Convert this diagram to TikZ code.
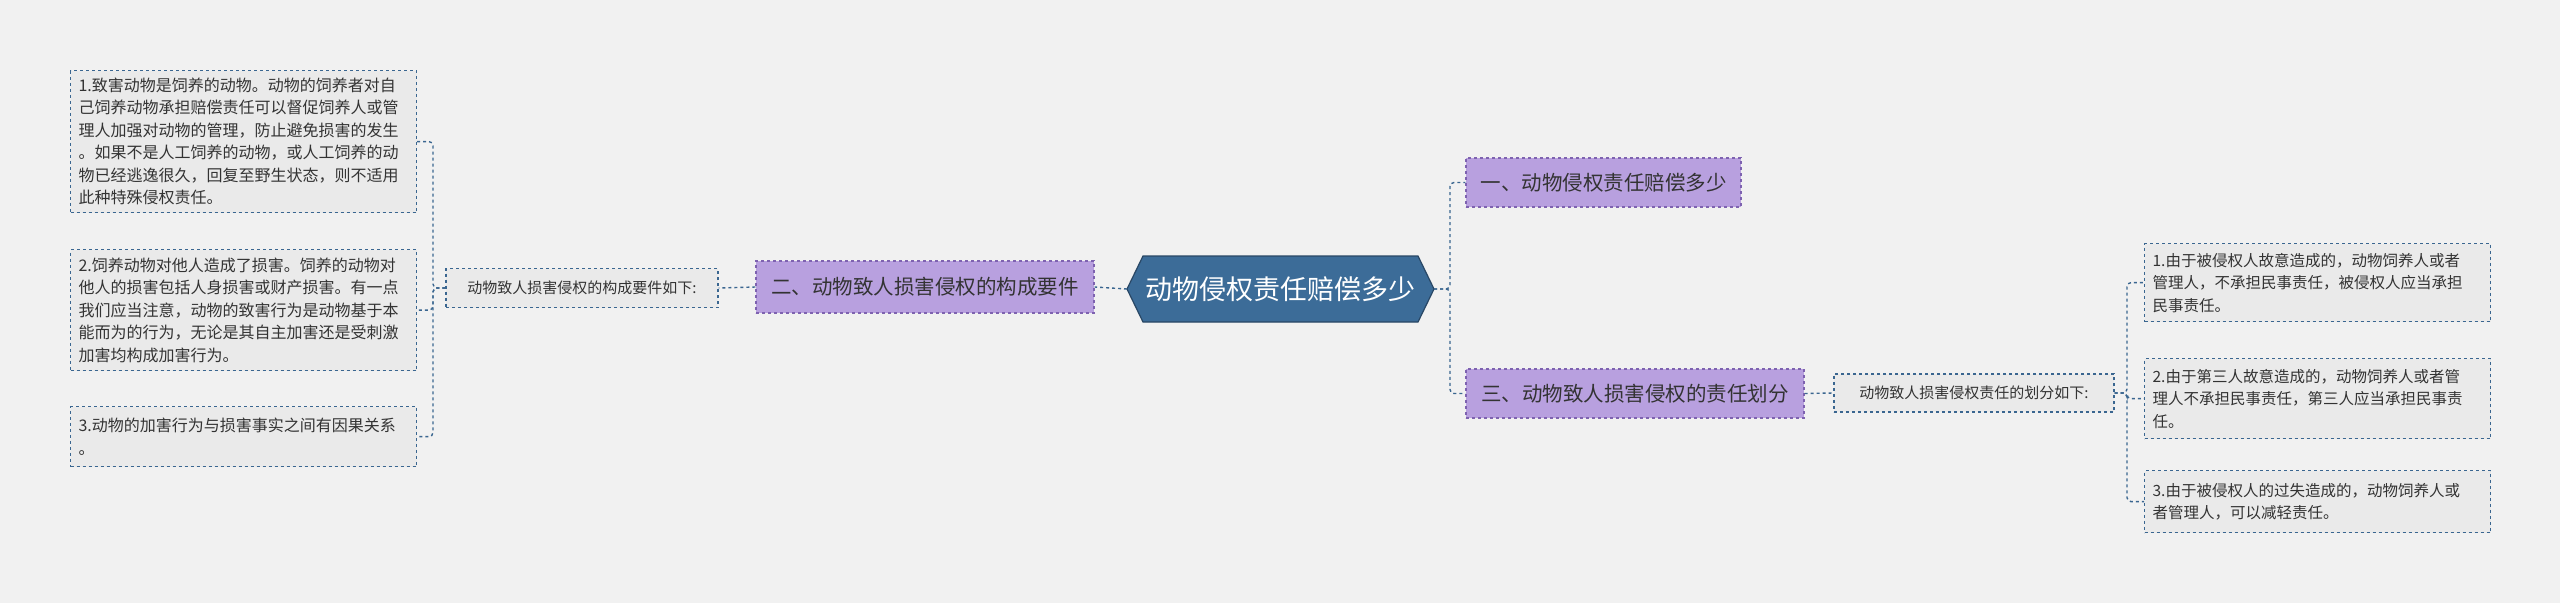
\documentclass[tikz,border=0pt]{standalone}
\usepackage{fontspec}
\setmainfont{Noto Sans CJK SC}
\definecolor{bg}{HTML}{F1F1F1}
\definecolor{boxf}{HTML}{EAEAEA}
\definecolor{lnc}{HTML}{3A6690}
\definecolor{purf}{HTML}{B8A0DF}
\definecolor{purd}{HTML}{7E62B0}
\definecolor{cenf}{HTML}{3C6C98}
\begin{document}
\begin{tikzpicture}[x=1pt,y=-1pt,
  txt/.style={draw=lnc,dashed,line width=1.2pt,fill=boxf,align=left,anchor=north west,inner xsep=8pt,inner ysep=0pt,
    font=\fontsize{16}{22.5}\selectfont,text=black!80},
  lbl/.style={draw=lnc,dashed,line width=1.2pt,fill=boxf,inner sep=0pt,font=\fontsize{15}{18}\selectfont,text=black!80},
  pur/.style={draw=purd,dashed,line width=1.2pt,fill=purf,inner sep=0pt,font=\fontsize{20.5}{24}\selectfont,text=black!80},
  con/.style={draw=lnc,dashed,line width=1.4pt,rounded corners=4pt}]
\fill[bg] (0,0) rectangle (2560,603);
% center
\fill[cenf] (1127,289) -- (1143,256) -- (1418,256) -- (1434,289) -- (1418,322) -- (1143,322) -- cycle;
\draw[lnc!70!black,line width=1.2pt] (1127,289) -- (1143,256) -- (1418,256) -- (1434,289) -- (1418,322) -- (1143,322) -- cycle;
\node[text=white,font=\fontsize{27}{30}\selectfont] (c) at (1280.5,289) {动物侵权责任赔偿多少};
\coordinate (cl) at (1127,289); \coordinate (cr) at (1434,289);
% left side
\node[pur,minimum width=338,minimum height=52] (p2) at (925,287) {二、动物致人损害侵权的构成要件};
\node[lbl,minimum width=272,minimum height=39] (l2) at (582,288) {动物致人损害侵权的构成要件如下:};
\node[txt,minimum width=346,minimum height=142,text width=330] (a1) at (70,70) {1.致害动物是饲养的动物。动物的饲养者对自\\己饲养动物承担赔偿责任可以督促饲养人或管\\理人加强对动物的管理，防止避免损害的发生\\。如果不是人工饲养的动物，或人工饲养的动\\物已经逃逸很久，回复至野生状态，则不适用\\此种特殊侵权责任。};
\node[txt,minimum width=346,minimum height=121,text width=330] (a2) at (70,249) {2.饲养动物对他人造成了损害。饲养的动物对\\他人的损害包括人身损害或财产损害。有一点\\我们应当注意，动物的致害行为是动物基于本\\能而为的行为，无论是其自主加害还是受刺激\\加害均构成加害行为。};
\node[txt,minimum width=346,minimum height=60,text width=330] (a3) at (70,406) {3.动物的加害行为与损害事实之间有因果关系\\。};
\draw[con] (cl) -- (p2.east);
\draw[con] (p2.west) -- (l2.east);
\draw[con] (l2.west) -- (433,288) |- (a1.east);
\draw[con] (l2.west) -- (433,288) |- (a2.east);
\draw[con] (l2.west) -- (433,288) |- (a3.east);
% right side
\node[pur,minimum width=275,minimum height=49] (p1) at (1603.5,182.5) {一、动物侵权责任赔偿多少};
\node[pur,minimum width=338,minimum height=49] (p3) at (1635,393.5) {三、动物致人损害侵权的责任划分};
\node[lbl,minimum width=280,minimum height=38] (l3) at (1974,393) {动物致人损害侵权责任的划分如下:};
\node[txt,minimum width=346,minimum height=78,text width=330,font=\fontsize{15.5}{22.5}\selectfont] (b1) at (2144,243) {1.由于被侵权人故意造成的，动物饲养人或者\\管理人，不承担民事责任，被侵权人应当承担\\民事责任。};
\node[txt,minimum width=346,minimum height=80,text width=330,font=\fontsize{15.5}{22.5}\selectfont] (b2) at (2144,358) {2.由于第三人故意造成的，动物饲养人或者管\\理人不承担民事责任，第三人应当承担民事责\\任。};
\node[txt,minimum width=346,minimum height=62,text width=330,font=\fontsize{15.5}{22.5}\selectfont] (b3) at (2144,470) {3.由于被侵权人的过失造成的，动物饲养人或\\者管理人，可以减轻责任。};
\draw[con] (cr) -- (1450,289) |- (p1.west);
\draw[con] (cr) -- (1450,289) |- (p3.west);
\draw[con] (p3.east) -- (l3.west);
\draw[con] (l3.east) -- (2127,393) |- (b1.west);
\draw[con] (l3.east) -- (2127,393) |- (b2.west);
\draw[con] (l3.east) -- (2127,393) |- (b3.west);
\end{tikzpicture}
\end{document}
